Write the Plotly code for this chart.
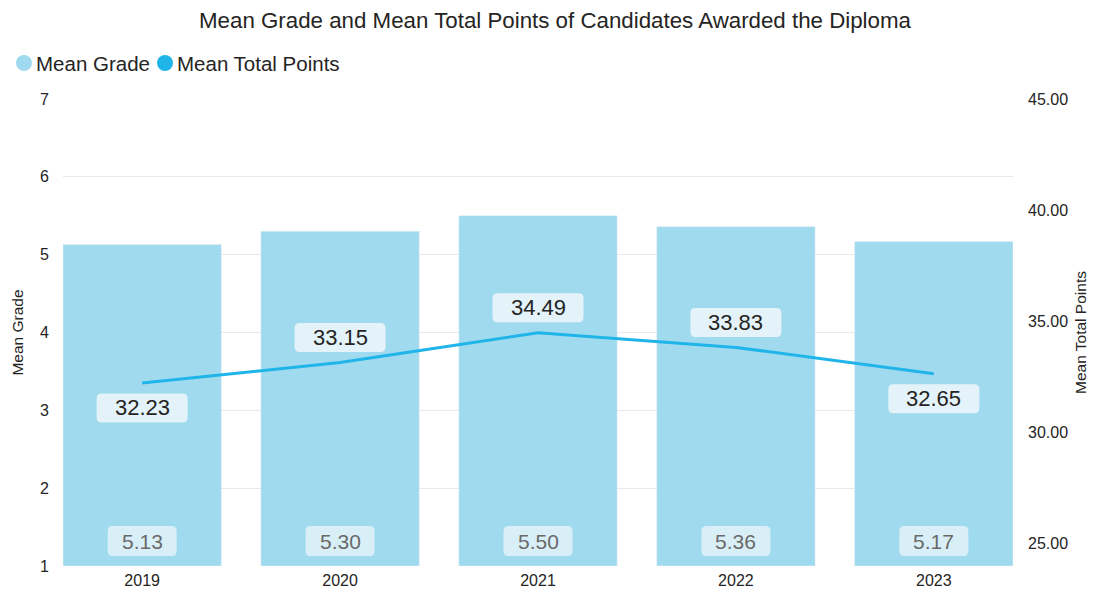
import plotly.graph_objects as go

years = ["2019", "2020", "2021", "2022", "2023"]
mean_grade = [5.13, 5.30, 5.50, 5.36, 5.17]
mean_points = [32.23, 33.15, 34.49, 33.83, 32.65]
label_pos = ["below", "above", "above", "above", "below"]
legend_names = ["Mean Grade", "Mean Total Points"]

BAR_C = "#A0DAEE"
LINE_C = "#1FB5E8"
FONT = "Liberation Sans, Arial, sans-serif"
TXT = "#252423"

OFF = 8  # default page body margin
W, H = 1089, 585
L, R, T, B = 63 - OFF, 84, 99 - OFF, 27
PW, PH = W - L - R, H - T - B

def px_x(px):
    return (px - OFF - L) / PW

def px_y(py):
    return (H - B - (py - OFF)) / PH

def rounded_box(cy, hw, hh, r):
    x0, x1, y0, y1 = -hw, hw, cy - hh, cy + hh
    return (f"M {x0+r},{y0} L {x1-r},{y0} Q {x1},{y0} {x1},{y0+r} "
            f"L {x1},{y1-r} Q {x1},{y1} {x1-r},{y1} L {x0+r},{y1} "
            f"Q {x0},{y1} {x0},{y1-r} L {x0},{y0+r} Q {x0},{y0} {x0+r},{y0} Z")

fig = go.Figure()
fig.add_trace(go.Bar(x=years, y=[g - 1 for g in mean_grade], base=1, marker_color=BAR_C,
                     width=0.8, showlegend=False, yaxis="y", hoverinfo="skip", name=legend_names[0]))
fig.add_trace(go.Scatter(x=years, y=mean_points, mode="lines", line=dict(color=LINE_C, width=3),
                         yaxis="y2", showlegend=False, name=legend_names[1]))

ann = []
shapes = []
for i, g in enumerate(mean_grade):
    shapes.append(dict(type="path", xref="x", yref="y", xsizemode="pixel", ysizemode="pixel",
                       xanchor=i, yanchor=1, path=rounded_box(25, 34.5, 15, 5),
                       fillcolor="#D9EFF8", line=dict(width=0), layer="above"))
    ann.append(dict(x=i, y=1, xref="x", yref="y", text=f"{g:.2f}", showarrow=False,
                    yanchor="middle", yshift=25, font=dict(size=21, color="#6A6A6A", family=FONT)))
for i, (p, pos) in enumerate(zip(mean_points, label_pos)):
    dy = -25 if pos == "below" else 25
    shapes.append(dict(type="path", xref="x", yref="y2", xsizemode="pixel", ysizemode="pixel",
                       xanchor=i, yanchor=p, path=rounded_box(dy, 45.5, 14.5, 5),
                       fillcolor="#E3F3F9", line=dict(width=0), layer="above"))
    ann.append(dict(x=i, y=p, xref="x", yref="y2", text=f"{p:.2f}", showarrow=False,
                    yanchor="middle", yshift=dy, font=dict(size=22, color=TXT, family=FONT)))

# manual legend (circle markers + text)
leg_items = [(legend_names[0], BAR_C, 24, 34), (legend_names[1], LINE_C, 165, 175)]
for name, col, cx, tx in leg_items:
    shapes.append(dict(type="circle", xref="paper", yref="paper", xsizemode="pixel",
                       ysizemode="pixel", xanchor=px_x(cx), yanchor=px_y(63),
                       x0=-8, x1=8, y0=-8, y1=8, fillcolor=col, line=dict(width=0)))
    ann.append(dict(x=px_x(tx), y=px_y(63), xref="paper", yref="paper", text=name,
                    showarrow=False, xanchor="left", yanchor="middle",
                    font=dict(size=20.5, color=TXT, family=FONT)))

fig.update_layout(annotations=ann, shapes=shapes)

fig.update_layout(
    width=W, height=H,
    margin=dict(l=L, r=R, t=T, b=B, autoexpand=False),
    paper_bgcolor="white", plot_bgcolor="white",
    font=dict(family=FONT, color=TXT),
    showlegend=False,
    title=dict(text="Mean Grade and Mean Total Points of Candidates Awarded the Diploma",
               x=(555 - OFF) / W, xanchor="center", y=1 - (20 - OFF) / H, yanchor="middle",
               yref="container",
               font=dict(size=22.3, color=TXT, family=FONT)),
    xaxis=dict(type="category", range=[-0.4, 4.4], showgrid=False, showline=False, ticks="",
               tickfont=dict(size=16, color=TXT), ticklabelstandoff=3, fixedrange=True),
    yaxis=dict(range=[1, 7], tickvals=[1, 2, 3, 4, 5, 6, 7], showgrid=True,
               gridcolor="#E9E9E9", gridwidth=1, zeroline=False, showline=False,
               tickfont=dict(size=16, color=TXT), ticklabelstandoff=13,
               title=dict(text="Mean Grade", font=dict(size=15.5, color=TXT), standoff=12)),
    yaxis2=dict(range=[24, 45], tickvals=[25, 30, 35, 40, 45], tickformat=".2f",
                overlaying="y", side="right", showgrid=False, zeroline=False,
                tickfont=dict(size=16, color=TXT), ticklabelstandoff=14,
                title=dict(text="Mean Total Points", font=dict(size=15.5, color=TXT), standoff=8)),
    bargap=0.2,
)
fig.write_html("out.html")
